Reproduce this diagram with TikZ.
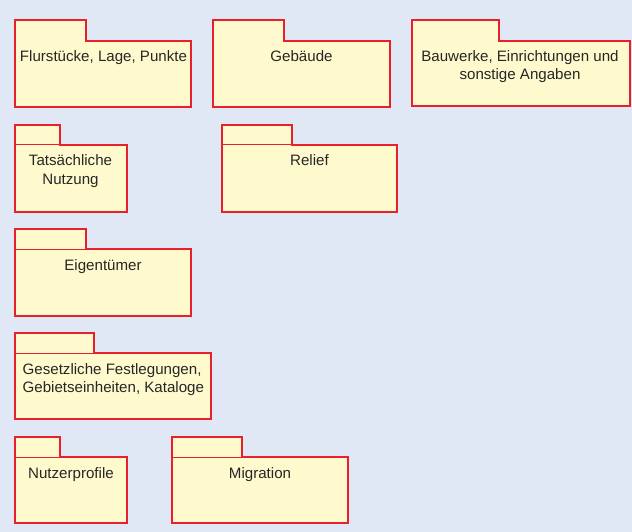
\documentclass[tikz,border=0pt]{standalone}
\usepackage{fontspec}
\setmainfont{Liberation Sans}
\definecolor{bgblue}{RGB}{224,231,245}
\definecolor{pkgfill}{RGB}{255,250,206}
\definecolor{pkgred}{RGB}{232,32,44}
\newcommand\umlpkg[6]{%
  \draw[pkgstyle] (#1,-#2) -- (#3,-#2) -- (#3,-#4) -- (#5,-#4) -- (#5,-#6) -- (#1,-#6) -- cycle;}
\newcommand\umlpkgsep[6]{%
  \umlpkg{#1}{#2}{#3}{#4}{#5}{#6}\draw[sepstyle] (#1,-#4) -- (#3,-#4);}
\newcommand\twoline[2]{\vtop{\halign{\hfil##\hfil\cr #1\cr #2\cr}}}
\newcommand\twolineleft[2]{\vtop{\halign{##\hfil\cr #1\cr #2\cr}}}
\tikzset{
  pkgstyle/.style={draw=pkgred, fill=pkgfill, line width=1.5pt, line join=miter},
  sepstyle/.style={draw=pkgred, line width=1pt},
  lbl/.style={anchor=base, inner sep=0pt, text=black!85, font=\fontsize{15.1}{18}\selectfont},
}
\begin{document}
\begin{tikzpicture}[x=1pt,y=1pt]
\useasboundingbox (0,0) rectangle (632,-532);
\fill[bgblue] (0,0) rectangle (632,-532);
% row 1
\umlpkg{15}{20}{86}{41}{191}{107}
\node[lbl] (flur) at (103.5,-62) {Flurstücke, Lage, Punkte};
\umlpkg{213}{20}{284}{41}{390}{107}
\node[lbl] (geb) at (301.5,-62) {Gebäude};
\umlpkg{412}{20}{499}{41}{630}{106}
\node[lbl] (bauw) at (520,-62) {\twoline{Bauwerke, Einrichtungen und}{sonstige Angaben}};
% row 2
\umlpkgsep{15}{125}{60}{145}{127}{212}
\node[lbl] (tats) at (70.5,-166) {\twoline{Tatsächliche}{Nutzung}};
\umlpkgsep{222}{125}{292}{145}{397}{212}
\node[lbl] (relief) at (309.5,-166) {Relief};
% row 3
\umlpkgsep{15}{229}{86}{249}{191}{316}
\node[lbl] (eigen) at (103,-270) {Eigentümer};
% row 4
\umlpkgsep{15}{333}{94}{353}{211}{419}
\node[lbl, anchor=base west] (gesetz) at (22.5,-374) {\twolineleft{Gesetzliche Festlegungen,}{Gebietseinheiten, Kataloge}};
% row 5
\umlpkgsep{15}{437}{60}{457}{127}{523}
\node[lbl] (nutzer) at (71,-478) {Nutzerprofile};
\umlpkgsep{172}{437}{242}{457}{348}{523}
\node[lbl] (migr) at (260,-478) {Migration};
\end{tikzpicture}
\end{document}
